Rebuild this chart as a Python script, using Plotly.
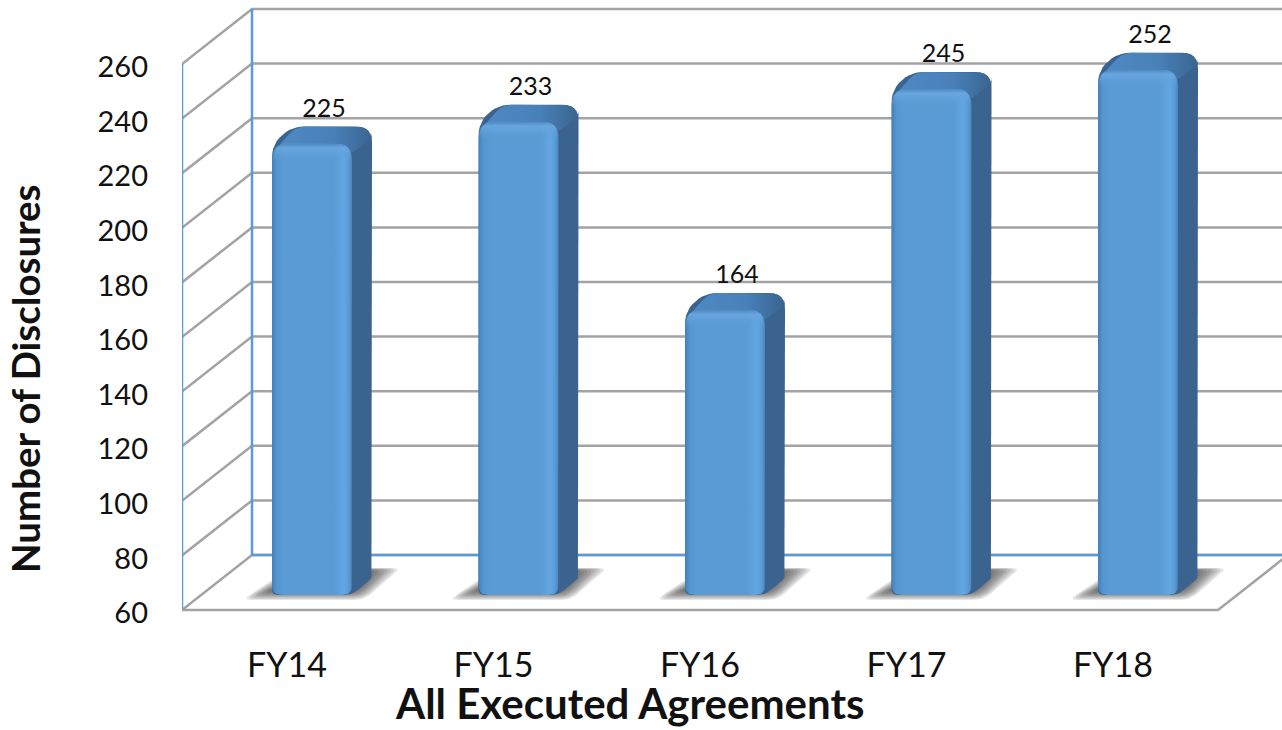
import plotly.graph_objects as go

categories = ["FY14", "FY15", "FY16", "FY17", "FY18"]
disclosures = [225, 233, 164, 245, 252]
y_ticks = [60, 80, 100, 120, 140, 160, 180, 200, 220, 240, 260]

# scale of the front plane, in pixels, used to turn depth offsets into data units
PX_CAT = 206.5
PX_UNIT = 2.73
DEPTH_X = 70 / PX_CAT
DEPTH_Y = 55 / PX_UNIT
BLUE = "#5b9bd5"
GRID = "#a3a3a3"
FONT = "Lato"

fig = go.Figure()


def line(xs, ys, color=GRID, width=2.5):
    fig.add_trace(go.Scatter(x=xs, y=ys, mode="lines", cliponaxis=False,
                             line=dict(color=color, width=width), hoverinfo="skip", showlegend=False))


def rounded(points, radii, steps=6):
    """points and radii in axis units scaled to pixels; returns smooth closed outline"""
    out = []
    n = len(points)
    for i in range(n):
        px, py = points[i - 1]
        cx, cy = points[i]
        nx, ny = points[(i + 1) % n]
        r = radii[i]
        d1 = ((cx - px) ** 2 + (cy - py) ** 2) ** 0.5
        d2 = ((nx - cx) ** 2 + (ny - cy) ** 2) ** 0.5
        a = (cx + (px - cx) * r / d1, cy + (py - cy) * r / d1)
        b = (cx + (nx - cx) * r / d2, cy + (ny - cy) * r / d2)
        for k in range(steps + 1):
            t = k / steps
            out.append(((1 - t) ** 2 * a[0] + 2 * t * (1 - t) * cx + t ** 2 * b[0],
                        (1 - t) ** 2 * a[1] + 2 * t * (1 - t) * cy + t ** 2 * b[1]))
    out.append(out[0])
    return out


def to_data(outline):
    # outline is in (cat-units * PX_CAT, value-units * PX_UNIT)
    return [p[0] / PX_CAT for p in outline], [p[1] / PX_UNIT for p in outline]


def fill(points, radii, gradient=None, color=None):
    xs, ys = to_data(rounded(points, radii))
    kw = dict(fillgradient=gradient) if gradient else dict(fillcolor=color)
    fig.add_trace(go.Scatter(x=xs, y=ys, mode="lines", fill="toself", line=dict(width=0),
                             hoverinfo="skip", showlegend=False, **kw))


# walls and floor
x_left = -105 / PX_CAT
x_right_front = 931 / PX_CAT
x_far = 1000 / PX_CAT
for v in y_ticks:
    line([x_left, x_left + DEPTH_X, x_far], [v, v + DEPTH_Y, v + DEPTH_Y])
line([x_left + DEPTH_X, x_far], [60 + DEPTH_Y, 60 + DEPTH_Y], BLUE, 2.5)
line([x_left, x_left], [60, 260], BLUE, 2.5)
line([x_left + DEPTH_X, x_left + DEPTH_X], [60 + DEPTH_Y, 260 + DEPTH_Y], BLUE, 2.5)
line([x_left, x_right_front, x_right_front + DEPTH_X], [60, 60, 60 + DEPTH_Y], GRID, 2.5)

# bars
BAR_SHIFT = 25
HALF_W = 40
BAR_DX = 20
BAR_DY = 17
BASE_Y = 60 + 15 / PX_UNIT

for i, v in enumerate(disclosures):
    cx = i * PX_CAT + BAR_SHIFT
    x0, x1 = cx - HALF_W, cx + HALF_W
    b = BASE_Y * PX_UNIT
    t = (v * PX_UNIT) + 16

    # floor shadow, soft edge built from nested translucent layers
    for k in range(12):
        ins = k * 2.6
        dy = k * 0.9
        fill([(x0 - 30 + ins * 1.2, b - 5 + dy * 1.2), (x1 + 12 - ins * 0.3, b - 5 + dy * 1.2),
              (x1 + 50 - ins * 1.3, b + 27 - dy * 0.3), (x0 + 18 + ins, b + 27 - dy * 0.3)],
             [10, 10, 10, 10], color="rgba(60,60,60,0.13)")

    # side silhouette
    fill([(x0, b), (x0, t), (x0 + BAR_DX, t + BAR_DY), (x1 + BAR_DX, t + BAR_DY),
          (x1 + BAR_DX, b + BAR_DY), (x1, b)],
         [6, 14, 12, 16, 3, 8], color="#3a648f")

    # top face
    fill([(x0, t - 10), (x0 + BAR_DX + 4, t + BAR_DY), (x1 + BAR_DX, t + BAR_DY), (x1 + BAR_DX, t + 5), (x1, t - 10)],
         [8, 10, 16, 6, 6],
         gradient=dict(type="horizontal", colorscale=[[0, "#4f8ac4"], [0.6, "#4980b8"], [0.85, "#3f6f9f"], [1, "#3a648f"]]))

    # front face
    fill([(x0, b), (x0, t), (x1, t), (x1, b)], [10, 16, 16, 10],
         gradient=dict(type="horizontal", colorscale=[
             [0, "#437fb9"], [0.06, "#5596d1"], [0.16, "#5b9bd5"], [0.78, "#5b9bd5"],
             [0.9, "#62a7e3"], [0.96, "#5a9ad4"], [1, "#4a84bc"]]))

    # soft highlight along the top of the front face
    fill([(x0 + 1, t - 18), (x0 + 1, t), (x1 - 1, t), (x1 - 1, t - 18)], [1, 15, 15, 1],
         gradient=dict(type="vertical", colorscale=[
             [0, "rgba(91,155,213,0)"], [0.75, "rgba(106,167,224,0.9)"], [1, "rgba(78,135,190,1)"]]))

# data labels
fig.add_trace(go.Scatter(
    x=[i + 37 / PX_CAT for i in range(len(categories))],
    y=[v + 49 / PX_UNIT for v in disclosures],
    mode="text", text=[str(v) for v in disclosures], textposition="middle center",
    textfont=dict(family=FONT, size=25, color="#111111"), cliponaxis=False,
    hoverinfo="skip", showlegend=False))

fig.update_layout(
    width=1282, height=730, autosize=False,
    paper_bgcolor="white", plot_bgcolor="white", showlegend=False,
    margin=dict(l=182, r=0, t=0, b=116),
    font=dict(family=FONT, color="#111111"),
    xaxis=dict(range=[x_left, 995 / PX_CAT], tickvals=list(range(len(categories))), ticktext=categories,
               showgrid=False, zeroline=False, showline=False, ticks="", ticklabelstandoff=28,
               tickfont=dict(size=34, family=FONT, color="#111111")),
    yaxis=dict(range=[60 - 4 / PX_UNIT, 60 + 610 / PX_UNIT], tickvals=y_ticks,
               showgrid=False, zeroline=False, showline=False, ticks="", ticklabelstandoff=33,
               ticklabelshift=3,
               tickfont=dict(size=29, family=FONT, color="#111111")),
    annotations=[
        dict(text="<b>All Executed Agreements</b>", xref="paper", yref="paper", xanchor="center", yanchor="middle",
             x=(630 - 182) / 1100, y=-(703 - 614) / 614, showarrow=False, font=dict(size=42, family=FONT, color="#111111")),
        dict(text="<b>Number of Disclosures</b>", xref="paper", yref="paper", xanchor="center", yanchor="middle",
             x=-(182 - 25) / 1100, y=(614 - 379) / 614, textangle=-90, showarrow=False,
             font=dict(size=38.5, family=FONT, color="#111111")),
    ],
)

fig.write_html("out.html", config={"displayModeBar": False},
               post_script="document.body.style.margin='0';document.documentElement.style.overflow='hidden';")
